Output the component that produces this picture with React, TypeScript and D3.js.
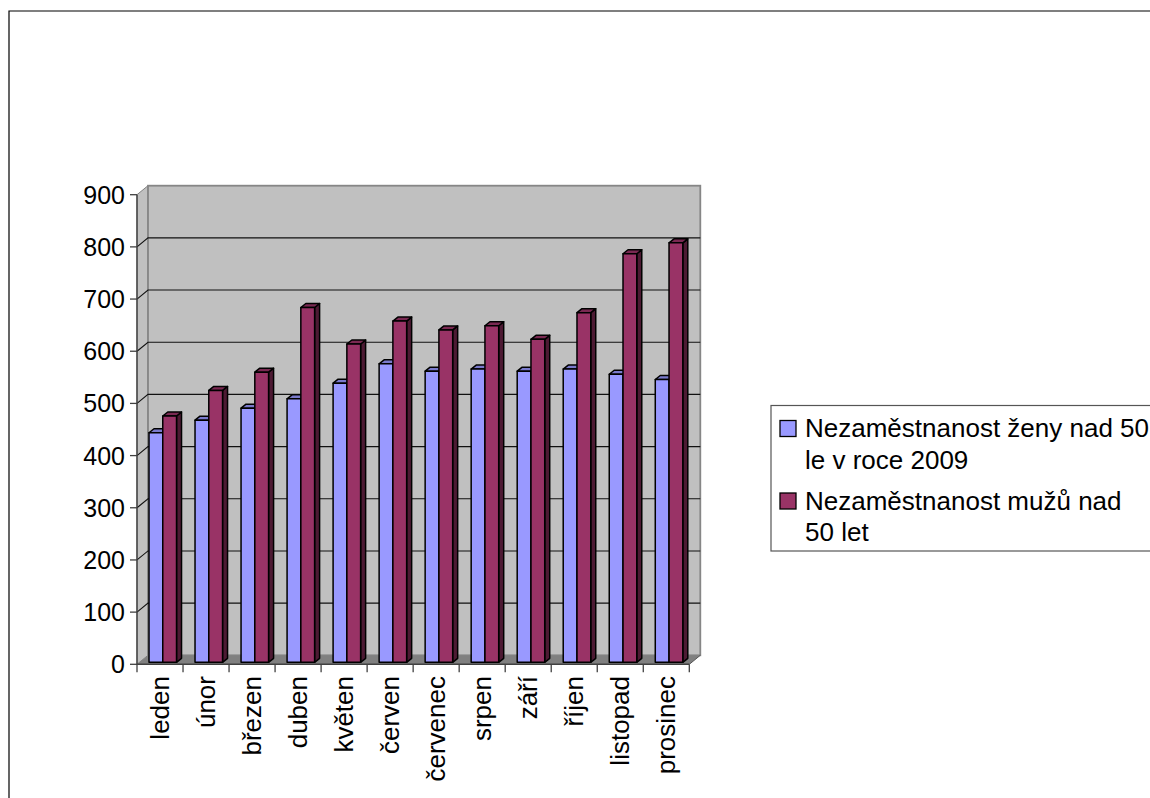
import React from "react";
import * as d3 from "d3";

const months = ["leden","únor","březen","duben","květen","červen","červenec","srpen","září","říjen","listopad","prosinec"];
const women = [440,464,487,505,535,572,558,562,558,562,552,542];
const men = [472,521,556,680,610,654,637,645,619,670,783,804];
const yTicks = [0,100,200,300,400,500,600,700,800,900];
const legendWomen = ["Nezaměstnanost ženy nad 50","le v roce 2009"];
const legendMen = ["Nezaměstnanost mužů nad","50 let"];

const FONT = "'Liberation Sans', Arial, sans-serif";
const WOMEN = "#9999ff";
const MEN = "#993366";
const MEN_TOP = "#7a2952";
const MEN_SIDE = "#4d1a33";
const WOMEN_TOP = "#7a7acc";
const WOMEN_SIDE = "#4d4d80";

const y = d3.scaleLinear().domain([0, 900]).range([664.3, 194.7]);
const x = d3.scaleBand().domain(months).range([137, 689.3]);
const DX = 11, DY = 9;
const BY = 2;
const dBar = 5, dBarY = 4;

function Bar({ x0, w, v, fill, top, side }: any) {
  const yb = y(0) - BY;
  const yt = y(v) - BY;
  const xa = x0, xb = x0 + w;
  return (
    <g stroke="#000" strokeWidth={1.5} strokeLinejoin="round">
      <polygon points={`${xb},${yt} ${xb + dBar},${yt - dBarY} ${xb + dBar},${yb - dBarY} ${xb},${yb}`} fill={side} />
      <polygon points={`${xa},${yt} ${xa + dBar},${yt - dBarY} ${xb + dBar},${yt - dBarY} ${xb},${yt}`} fill={top} />
      <rect x={xa} y={yt} width={w} height={yb - yt} fill={fill} />
    </g>
  );
}

export default function App() {
  const y0 = y(0), yTop = y(900), xl = x.range()[0], xr = x.range()[1];
  return (
    <svg width={1150} height={798} style={{ position: "absolute", left: 0, top: 0, background: "#fff" }} fontFamily={FONT}>
      <path d="M9,798 V11 H1150" fill="none" stroke="#000" strokeWidth={1.2} />

      <polygon points={`${xl},${y0} ${xl + DX},${y0 - DY} ${xl + DX},${yTop - DY} ${xl},${yTop}`} fill="#c0c0c0" stroke="#808080" strokeWidth={1} />
      <rect x={xl + DX} y={yTop - DY} width={xr - xl} height={y0 - yTop} fill="#c0c0c0" stroke="#868686" strokeWidth={1.8} />
      <polygon points={`${xl},${y0} ${xl + DX},${y0 - DY} ${xr + DX},${y0 - DY} ${xr},${y0}`} fill="#808080" />
      <path d={`M${xr},${y0} L${xr + DX},${y0 - DY}`} stroke="#555" strokeWidth={1} />

      {yTicks.filter(t => t > 0 && t < 900).map(t => (
        <path key={t} d={`M${xl},${y(t)} L${xl + DX},${y(t) - DY} H${xr + DX}`} fill="none" stroke="#111" strokeWidth={1.1} />
      ))}

      {months.map((m, i) => {
        const bw = x.bandwidth();
        const x0 = x(m)! + 12;
        const w = (bw - 18.5) / 2;
        return (
          <g key={m}>
            <Bar x0={x0} w={w} v={women[i]} fill={WOMEN} top={WOMEN_TOP} side={WOMEN_SIDE} />
            <Bar x0={x0 + w} w={w} v={men[i]} fill={MEN} top={MEN_TOP} side={MEN_SIDE} />
          </g>
        );
      })}

      <path d={`M${xl},${yTop} V${y0} H${xr}`} fill="none" stroke="#404040" strokeWidth={1.4} />
      {yTicks.map(t => (
        <g key={t}>
          <line x1={xl - 7} x2={xl} y1={y(t)} y2={y(t)} stroke="#404040" strokeWidth={1.3} />
          <text x={xl - 12} y={y(t) + 9} textAnchor="end" fontSize={25} fill="#000">{t}</text>
        </g>
      ))}
      {[...months.map(m => x(m)!), xr].map((px, i) => (
        <line key={i} x1={px} x2={px} y1={y0} y2={y0 + 8} stroke="#404040" strokeWidth={1.3} />
      ))}
      {months.map(m => {
        const cx = x(m)! + x.bandwidth() / 2 + 8.5;
        return (
          <text key={m} transform={`translate(${cx},676) rotate(-90)`} textAnchor="end" fontSize={26} fill="#000">{m}</text>
        );
      })}

      <rect x={771} y={405.5} width={390} height={145.5} fill="#fff" stroke="#555" strokeWidth={1.2} />
      <rect x={780} y={420.5} width={16} height={16} fill={WOMEN} stroke="#000" strokeWidth={1.3} />
      <rect x={780} y={493} width={16} height={16} fill={MEN} stroke="#000" strokeWidth={1.3} />
      {legendWomen.map((s, i) => (
        <text key={s} x={805} y={437 + i * 32} fontSize={26} fill="#000">{s}</text>
      ))}
      {legendMen.map((s, i) => (
        <text key={s} x={805} y={509.5 + i * 31} fontSize={26} fill="#000">{s}</text>
      ))}
    </svg>
  );
}
